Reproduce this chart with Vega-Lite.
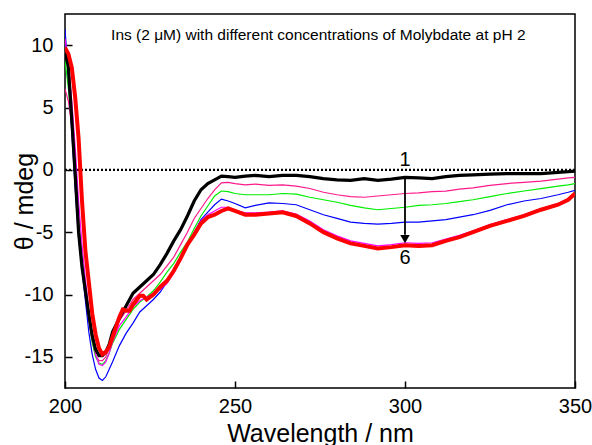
{
  "$schema": "https://vega.github.io/schema/vega-lite/v6.json",
  "width": 510,
  "height": 374,
  "autosize": "none",
  "padding": {"left": 65, "top": 14, "right": 17, "bottom": 57},
  "background": "white",
  "config": {
    "view": {"stroke": "black", "strokeWidth": 1.5},
    "font": "Liberation Sans",
    "axis": {"grid": false, "domain": false, "labelColor": "black", "titleColor": "black", "tickColor": "black", "tickWidth": 1.5, "labelFont": "Liberation Sans", "titleFont": "Liberation Sans", "titleFontWeight": "normal", "labelFontSize": 20, "labelFlush": false, "labelExpr": "'' + datum.value"}
  },
  "datasets": {
    "curves": [
      {"s":"1","x":200,"y":9.6},{"s":"1","x":201,"y":8.2},{"s":"1","x":202,"y":4.0},{"s":"1","x":203,"y":-0.4},{"s":"1","x":204,"y":-5.0},{"s":"1","x":205,"y":-7.8},{"s":"1","x":206,"y":-9.7},{"s":"1","x":207,"y":-11.6},{"s":"1","x":208,"y":-13.3},{"s":"1","x":209,"y":-14.4},{"s":"1","x":210,"y":-14.9},{"s":"1","x":211,"y":-14.9},{"s":"1","x":212,"y":-14.6},{"s":"1","x":213,"y":-14.0},{"s":"1","x":214,"y":-13.0},{"s":"1","x":216,"y":-11.9},{"s":"1","x":218,"y":-10.9},{"s":"1","x":220,"y":-9.9},{"s":"1","x":222,"y":-9.4},{"s":"1","x":224,"y":-8.9},{"s":"1","x":226,"y":-8.4},{"s":"1","x":228,"y":-7.6},{"s":"1","x":230,"y":-6.7},{"s":"1","x":232,"y":-5.7},{"s":"1","x":234,"y":-4.8},{"s":"1","x":236,"y":-3.7},{"s":"1","x":238,"y":-2.5},{"s":"1","x":240,"y":-1.6},{"s":"1","x":242,"y":-1.1},{"s":"1","x":244,"y":-0.8},{"s":"1","x":246,"y":-0.5},{"s":"1","x":248,"y":-0.55},{"s":"1","x":250,"y":-0.6},{"s":"1","x":253,"y":-0.5},{"s":"1","x":256,"y":-0.45},{"s":"1","x":260,"y":-0.55},{"s":"1","x":264,"y":-0.45},{"s":"1","x":268,"y":-0.45},{"s":"1","x":272,"y":-0.55},{"s":"1","x":276,"y":-0.7},{"s":"1","x":280,"y":-0.8},{"s":"1","x":284,"y":-0.85},{"s":"1","x":288,"y":-0.7},{"s":"1","x":292,"y":-0.85},{"s":"1","x":296,"y":-0.75},{"s":"1","x":300,"y":-0.6},{"s":"1","x":304,"y":-0.65},{"s":"1","x":308,"y":-0.7},{"s":"1","x":312,"y":-0.55},{"s":"1","x":316,"y":-0.45},{"s":"1","x":320,"y":-0.4},{"s":"1","x":325,"y":-0.35},{"s":"1","x":330,"y":-0.3},{"s":"1","x":335,"y":-0.3},{"s":"1","x":340,"y":-0.3},{"s":"1","x":345,"y":-0.2},{"s":"1","x":348,"y":-0.15},{"s":"1","x":350,"y":-0.1},

      {"s":"2","x":200,"y":6.5},{"s":"2","x":201,"y":5.5},{"s":"2","x":202,"y":3.5},{"s":"2","x":203,"y":0.8},{"s":"2","x":204,"y":-3.8},{"s":"2","x":205,"y":-7.0},{"s":"2","x":206,"y":-9.6},{"s":"2","x":207,"y":-12.0},{"s":"2","x":208,"y":-13.8},{"s":"2","x":209,"y":-14.9},{"s":"2","x":210,"y":-15.3},{"s":"2","x":211,"y":-15.3},{"s":"2","x":212,"y":-15.0},{"s":"2","x":213,"y":-14.3},{"s":"2","x":214,"y":-13.4},{"s":"2","x":216,"y":-12.1},{"s":"2","x":218,"y":-11.3},{"s":"2","x":220,"y":-10.4},{"s":"2","x":222,"y":-9.9},{"s":"2","x":224,"y":-9.4},{"s":"2","x":226,"y":-8.9},{"s":"2","x":228,"y":-8.4},{"s":"2","x":230,"y":-7.7},{"s":"2","x":232,"y":-7.0},{"s":"2","x":234,"y":-6.0},{"s":"2","x":236,"y":-5.0},{"s":"2","x":238,"y":-3.9},{"s":"2","x":240,"y":-3.1},{"s":"2","x":242,"y":-2.3},{"s":"2","x":244,"y":-1.6},{"s":"2","x":246,"y":-1.05},{"s":"2","x":248,"y":-1.0},{"s":"2","x":250,"y":-1.1},{"s":"2","x":253,"y":-1.2},{"s":"2","x":256,"y":-1.15},{"s":"2","x":260,"y":-1.25},{"s":"2","x":264,"y":-1.2},{"s":"2","x":268,"y":-1.3},{"s":"2","x":272,"y":-1.5},{"s":"2","x":276,"y":-1.8},{"s":"2","x":280,"y":-2.0},{"s":"2","x":284,"y":-2.15},{"s":"2","x":288,"y":-2.2},{"s":"2","x":292,"y":-2.1},{"s":"2","x":296,"y":-2.0},{"s":"2","x":300,"y":-1.9},{"s":"2","x":304,"y":-1.85},{"s":"2","x":308,"y":-1.75},{"s":"2","x":312,"y":-1.7},{"s":"2","x":316,"y":-1.55},{"s":"2","x":320,"y":-1.45},{"s":"2","x":325,"y":-1.25},{"s":"2","x":330,"y":-1.1},{"s":"2","x":335,"y":-1.0},{"s":"2","x":340,"y":-0.9},{"s":"2","x":345,"y":-0.75},{"s":"2","x":348,"y":-0.65},{"s":"2","x":350,"y":-0.6},

      {"s":"3","x":200,"y":8.8},{"s":"3","x":201,"y":6.5},{"s":"3","x":202,"y":3.8},{"s":"3","x":203,"y":0.5},{"s":"3","x":204,"y":-4.0},{"s":"3","x":205,"y":-7.0},{"s":"3","x":206,"y":-9.5},{"s":"3","x":207,"y":-11.8},{"s":"3","x":208,"y":-13.8},{"s":"3","x":209,"y":-15.0},{"s":"3","x":210,"y":-15.5},{"s":"3","x":211,"y":-15.6},{"s":"3","x":212,"y":-15.3},{"s":"3","x":213,"y":-14.7},{"s":"3","x":214,"y":-13.9},{"s":"3","x":216,"y":-12.8},{"s":"3","x":218,"y":-12.0},{"s":"3","x":220,"y":-11.2},{"s":"3","x":222,"y":-10.6},{"s":"3","x":224,"y":-10.2},{"s":"3","x":226,"y":-9.7},{"s":"3","x":228,"y":-9.0},{"s":"3","x":230,"y":-8.2},{"s":"3","x":232,"y":-7.5},{"s":"3","x":234,"y":-6.6},{"s":"3","x":236,"y":-5.8},{"s":"3","x":238,"y":-4.7},{"s":"3","x":240,"y":-3.7},{"s":"3","x":242,"y":-2.9},{"s":"3","x":244,"y":-2.1},{"s":"3","x":246,"y":-1.7},{"s":"3","x":248,"y":-1.75},{"s":"3","x":250,"y":-1.9},{"s":"3","x":253,"y":-2.0},{"s":"3","x":256,"y":-2.0},{"s":"3","x":260,"y":-2.0},{"s":"3","x":264,"y":-1.9},{"s":"3","x":268,"y":-1.95},{"s":"3","x":272,"y":-2.2},{"s":"3","x":276,"y":-2.4},{"s":"3","x":280,"y":-2.6},{"s":"3","x":284,"y":-2.85},{"s":"3","x":288,"y":-3.05},{"s":"3","x":292,"y":-3.2},{"s":"3","x":296,"y":-3.1},{"s":"3","x":300,"y":-3.0},{"s":"3","x":304,"y":-2.85},{"s":"3","x":308,"y":-2.8},{"s":"3","x":312,"y":-2.7},{"s":"3","x":316,"y":-2.55},{"s":"3","x":320,"y":-2.4},{"s":"3","x":325,"y":-2.15},{"s":"3","x":330,"y":-1.9},{"s":"3","x":335,"y":-1.7},{"s":"3","x":340,"y":-1.5},{"s":"3","x":345,"y":-1.3},{"s":"3","x":348,"y":-1.2},{"s":"3","x":350,"y":-1.1},

      {"s":"4","x":200,"y":11.3},{"s":"4","x":201,"y":7.5},{"s":"4","x":202,"y":3.0},{"s":"4","x":203,"y":-1.5},{"s":"4","x":204,"y":-5.5},{"s":"4","x":205,"y":-8.0},{"s":"4","x":206,"y":-10.5},{"s":"4","x":207,"y":-13.0},{"s":"4","x":208,"y":-14.8},{"s":"4","x":209,"y":-16.0},{"s":"4","x":210,"y":-16.7},{"s":"4","x":211,"y":-16.9},{"s":"4","x":212,"y":-16.6},{"s":"4","x":213,"y":-16.0},{"s":"4","x":214,"y":-15.4},{"s":"4","x":216,"y":-14.1},{"s":"4","x":218,"y":-13.1},{"s":"4","x":220,"y":-12.3},{"s":"4","x":222,"y":-11.4},{"s":"4","x":224,"y":-10.9},{"s":"4","x":226,"y":-10.4},{"s":"4","x":228,"y":-9.8},{"s":"4","x":230,"y":-9.0},{"s":"4","x":232,"y":-8.0},{"s":"4","x":234,"y":-7.2},{"s":"4","x":236,"y":-6.2},{"s":"4","x":238,"y":-5.0},{"s":"4","x":240,"y":-4.0},{"s":"4","x":242,"y":-3.4},{"s":"4","x":244,"y":-2.8},{"s":"4","x":246,"y":-2.35},{"s":"4","x":248,"y":-2.5},{"s":"4","x":250,"y":-2.7},{"s":"4","x":253,"y":-3.05},{"s":"4","x":256,"y":-2.85},{"s":"4","x":260,"y":-2.65},{"s":"4","x":264,"y":-2.7},{"s":"4","x":268,"y":-2.8},{"s":"4","x":272,"y":-3.2},{"s":"4","x":276,"y":-3.6},{"s":"4","x":280,"y":-3.9},{"s":"4","x":284,"y":-4.2},{"s":"4","x":288,"y":-4.3},{"s":"4","x":292,"y":-4.35},{"s":"4","x":296,"y":-4.3},{"s":"4","x":300,"y":-4.2},{"s":"4","x":304,"y":-4.2},{"s":"4","x":308,"y":-4.1},{"s":"4","x":312,"y":-4.0},{"s":"4","x":316,"y":-3.8},{"s":"4","x":320,"y":-3.6},{"s":"4","x":325,"y":-3.25},{"s":"4","x":330,"y":-2.8},{"s":"4","x":335,"y":-2.5},{"s":"4","x":340,"y":-2.3},{"s":"4","x":345,"y":-2.0},{"s":"4","x":348,"y":-1.8},{"s":"4","x":350,"y":-1.65},

      {"s":"5","x":200,"y":10.5},{"s":"5","x":201,"y":8.5},{"s":"5","x":202,"y":5.5},{"s":"5","x":203,"y":1.8},{"s":"5","x":204,"y":-2.5},{"s":"5","x":205,"y":-6.0},{"s":"5","x":206,"y":-8.8},{"s":"5","x":207,"y":-11.2},{"s":"5","x":208,"y":-13.3},{"s":"5","x":209,"y":-14.8},{"s":"5","x":210,"y":-15.6},{"s":"5","x":211,"y":-15.7},{"s":"5","x":212,"y":-15.4},{"s":"5","x":213,"y":-14.7},{"s":"5","x":214,"y":-13.8},{"s":"5","x":216,"y":-12.5},{"s":"5","x":218,"y":-11.8},{"s":"5","x":220,"y":-11.0},{"s":"5","x":222,"y":-10.5},{"s":"5","x":224,"y":-10.2},{"s":"5","x":226,"y":-9.9},{"s":"5","x":228,"y":-9.6},{"s":"5","x":230,"y":-9.1},{"s":"5","x":232,"y":-8.3},{"s":"5","x":234,"y":-7.2},{"s":"5","x":236,"y":-6.1},{"s":"5","x":238,"y":-5.0},{"s":"5","x":240,"y":-4.1},{"s":"5","x":242,"y":-3.6},{"s":"5","x":244,"y":-3.3},{"s":"5","x":246,"y":-3.0},{"s":"5","x":248,"y":-3.0},{"s":"5","x":250,"y":-3.25},{"s":"5","x":253,"y":-3.45},{"s":"5","x":256,"y":-3.45},{"s":"5","x":260,"y":-3.4},{"s":"5","x":264,"y":-3.3},{"s":"5","x":268,"y":-3.55},{"s":"5","x":272,"y":-4.1},{"s":"5","x":276,"y":-4.8},{"s":"5","x":280,"y":-5.3},{"s":"5","x":284,"y":-5.7},{"s":"5","x":288,"y":-5.9},{"s":"5","x":292,"y":-6.1},{"s":"5","x":296,"y":-6.0},{"s":"5","x":300,"y":-5.85},{"s":"5","x":304,"y":-5.9},{"s":"5","x":308,"y":-5.85},{"s":"5","x":312,"y":-5.55},{"s":"5","x":316,"y":-5.25},{"s":"5","x":320,"y":-4.9},{"s":"5","x":325,"y":-4.4},{"s":"5","x":330,"y":-4.0},{"s":"5","x":335,"y":-3.6},{"s":"5","x":340,"y":-3.1},{"s":"5","x":345,"y":-2.7},{"s":"5","x":348,"y":-2.35},{"s":"5","x":350,"y":-1.9},

      {"s":"6","x":200,"y":9.8},{"s":"6","x":201,"y":9.3},{"s":"6","x":202,"y":8.2},{"s":"6","x":203,"y":5.8},{"s":"6","x":204,"y":2.5},{"s":"6","x":205,"y":-2.5},{"s":"6","x":206,"y":-6.5},{"s":"6","x":207,"y":-9.0},{"s":"6","x":208,"y":-11.5},{"s":"6","x":209,"y":-13.2},{"s":"6","x":210,"y":-14.3},{"s":"6","x":211,"y":-14.8},{"s":"6","x":212,"y":-14.6},{"s":"6","x":213,"y":-14.2},{"s":"6","x":214,"y":-13.4},{"s":"6","x":216,"y":-11.8},{"s":"6","x":217,"y":-11.2},{"s":"6","x":218,"y":-11.3},{"s":"6","x":219,"y":-11.3},{"s":"6","x":220,"y":-10.8},{"s":"6","x":222,"y":-10.1},{"s":"6","x":223,"y":-10.1},{"s":"6","x":224,"y":-10.4},{"s":"6","x":226,"y":-10.0},{"s":"6","x":228,"y":-9.4},{"s":"6","x":230,"y":-8.9},{"s":"6","x":232,"y":-8.1},{"s":"6","x":234,"y":-7.1},{"s":"6","x":236,"y":-6.0},{"s":"6","x":238,"y":-5.2},{"s":"6","x":240,"y":-4.3},{"s":"6","x":242,"y":-3.8},{"s":"6","x":244,"y":-3.6},{"s":"6","x":246,"y":-3.3},{"s":"6","x":248,"y":-3.1},{"s":"6","x":250,"y":-3.3},{"s":"6","x":253,"y":-3.6},{"s":"6","x":256,"y":-3.6},{"s":"6","x":260,"y":-3.5},{"s":"6","x":264,"y":-3.4},{"s":"6","x":268,"y":-3.7},{"s":"6","x":272,"y":-4.3},{"s":"6","x":276,"y":-5.0},{"s":"6","x":280,"y":-5.5},{"s":"6","x":284,"y":-5.9},{"s":"6","x":288,"y":-6.1},{"s":"6","x":292,"y":-6.3},{"s":"6","x":296,"y":-6.2},{"s":"6","x":300,"y":-6.05},{"s":"6","x":304,"y":-6.1},{"s":"6","x":308,"y":-6.05},{"s":"6","x":312,"y":-5.7},{"s":"6","x":316,"y":-5.4},{"s":"6","x":320,"y":-5.0},{"s":"6","x":325,"y":-4.5},{"s":"6","x":330,"y":-4.1},{"s":"6","x":335,"y":-3.7},{"s":"6","x":340,"y":-3.2},{"s":"6","x":345,"y":-2.8},{"s":"6","x":348,"y":-2.4},{"s":"6","x":350,"y":-1.9}
    ],
    "labels": [
      {"x":300,"y":0.75,"t":"1"},
      {"x":300,"y":-7.05,"t":"6"}
    ],
    "arrow": [
      {"x":300,"y":-0.5,"y2":-5.2}
    ],
    "head": [
      {"x":300,"y":-5.55}
    ],
    "zero": [
      {"x":200,"y":0},{"x":350,"y":0}
    ],
    "ttl": [
      {"x":274.5,"y":10.85,"t":"Ins (2 μM) with different concentrations of Molybdate at pH 2"}
    ]
  },
  "layer": [
    {
      "data": {"name": "zero"},
      "mark": {"type": "line", "color": "black", "strokeWidth": 2.2, "strokeDash": [2, 2]},
      "encoding": {
        "x": {"field": "x", "type": "quantitative", "scale": {"domain": [200, 350], "nice": false, "zero": false},
              "axis": {"values": [200, 250, 300, 350], "title": "Wavelength / nm", "titleFontSize": 25, "tickSize": -7, "labelPadding": 15, "titleY": 53, "titleBaseline": "alphabetic"}},
        "y": {"field": "y", "type": "quantitative", "scale": {"domain": [-17.5, 12.5], "nice": false, "zero": false},
              "axis": {"values": [-15, -10, -5, 0, 5, 10], "title": "θ / mdeg", "titleFontSize": 25, "tickSize": -7, "labelPadding": 19, "titleX": -41, "titleBaseline": "middle"}}
      }
    },
    {
      "data": {"name": "curves"},
      "transform": [{"filter": "datum.s != '1' && datum.s != '6'"}],
      "mark": {"type": "line", "clip": true, "strokeWidth": 1.2},
      "encoding": {
        "x": {"field": "x", "type": "quantitative"},
        "y": {"field": "y", "type": "quantitative"},
        "order": {"field": "x", "type": "quantitative"},
        "color": {"field": "s", "type": "nominal", "legend": null,
                  "scale": {"domain": ["2", "3", "4", "5"], "range": ["#ff1a8c", "#00ee00", "#0000ff", "#ff00ff"]}}
      }
    },
    {
      "data": {"name": "curves"},
      "transform": [{"filter": "datum.s == '1'"}],
      "mark": {"type": "line", "clip": true, "strokeWidth": 3.2, "color": "#000000"},
      "encoding": {
        "x": {"field": "x", "type": "quantitative"},
        "y": {"field": "y", "type": "quantitative"},
        "order": {"field": "x", "type": "quantitative"}
      }
    },
    {
      "data": {"name": "curves"},
      "transform": [{"filter": "datum.s == '6'"}],
      "mark": {"type": "line", "clip": true, "strokeWidth": 4, "color": "#ff0000"},
      "encoding": {
        "x": {"field": "x", "type": "quantitative"},
        "y": {"field": "y", "type": "quantitative"},
        "order": {"field": "x", "type": "quantitative"}
      }
    },
    {
      "data": {"name": "arrow"},
      "mark": {"type": "rule", "color": "black", "strokeWidth": 1.8},
      "encoding": {
        "x": {"field": "x", "type": "quantitative"},
        "y": {"field": "y", "type": "quantitative"},
        "y2": {"field": "y2"}
      }
    },
    {
      "data": {"name": "head"},
      "mark": {"type": "point", "shape": "triangle-down", "filled": true, "color": "black", "size": 90, "opacity": 1},
      "encoding": {
        "x": {"field": "x", "type": "quantitative"},
        "y": {"field": "y", "type": "quantitative"}
      }
    },
    {
      "data": {"name": "labels"},
      "mark": {"type": "text", "fontSize": 20, "color": "black", "font": "Liberation Sans", "align": "center", "baseline": "middle"},
      "encoding": {
        "x": {"field": "x", "type": "quantitative"},
        "y": {"field": "y", "type": "quantitative"},
        "text": {"field": "t"}
      }
    },
    {
      "data": {"name": "ttl"},
      "mark": {"type": "text", "fontSize": 15.5, "color": "black", "font": "Liberation Sans", "align": "center", "baseline": "middle"},
      "encoding": {
        "x": {"field": "x", "type": "quantitative"},
        "y": {"field": "y", "type": "quantitative"},
        "text": {"field": "t"}
      }
    }
  ]
}
